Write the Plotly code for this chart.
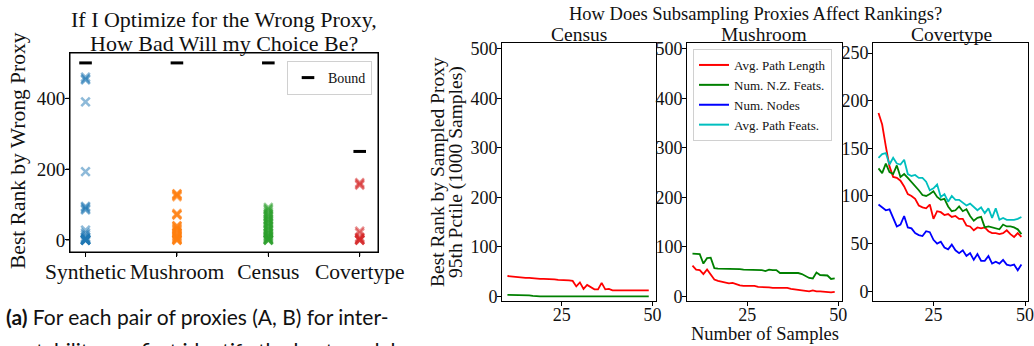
import plotly.graph_objects as go

# ---------------- data: worst-case rank when optimizing the wrong proxy ----------------
datasets = ["Synthetic", "Mushroom", "Census", "Covertype"]
bound_values = [500, 500, 500, 250]
left_yticks = [0, 200, 400]

synthetic_ranks = [460, 455, 452, 390, 193, 95, 92, 88, 85, 28, 20, 15, 8, 5, 3, 2, 0, 0, 0, 0, 0, 0]
mushroom_ranks = [130, 130, 128, 125, 125, 122, 75, 72, 72, 70, 40, 40, 38, 35, 32, 30, 28, 25,
                  20, 18, 15, 12, 10, 8, 5, 3, 2, 0, 0, 0]
census_ranks = [92, 88, 85, 80, 75, 72, 68, 65, 60, 58, 55, 50, 48, 45, 40, 38, 35, 30, 28,
                25, 20, 18, 15, 12, 10, 8, 5, 3, 2, 0, 0, 0]
covertype_ranks = [162, 158, 155, 25, 20, 8, 5, 2, 0, 0, 0]

# ---------------- data: rank vs. number of samples (95th percentile) ----------------
n_samples = list(range(10, 50))

census_path_len = [41, 40, 40, 39, 38, 37, 37, 36, 36, 35, 35, 35, 34, 34, 33, 33, 32, 32, 31,
                   20, 28, 15, 23, 18, 14, 14, 27, 14, 15, 12, 12, 12, 12, 12, 12, 12, 12, 12, 12, 12]
census_nz_feats = [3, 3, 3, 3, 2, 3, 2, 1, 0, 0, 0, 0, 0, 0, 0, 0, 0, 0, 0, 0,
                   0, 0, 0, 0, 0, 0, 0, 0, 0, 0, 0, 0, 0, 0, 0, 0, 0, 0, 0, 0]

mushroom_path_len = [62, 54, 53, 45, 54, 45, 34, 31, 29, 28, 26, 27, 24, 22, 21, 21, 20, 21, 19, 19,
                     19, 18, 17, 17, 16, 16, 17, 15, 14, 13, 12, 12, 10, 12, 10, 10, 9, 9, 8, 9]
mushroom_nz_feats = [86, 85, 85, 66, 77, 78, 57, 56, 56, 55, 55, 55, 55, 55, 54, 54, 54, 54, 54, 53,
                     51, 54, 53, 53, 47, 47, 47, 47, 47, 47, 45, 41, 37, 36, 48, 43, 42, 42, 35, 36]

cover_path_len = [187, 175, 152, 131, 120, 119, 116, 110, 102, 100, 97, 90, 88, 87, 91, 76, 84, 83, 80, 81,
                  78, 79, 76, 76, 69, 68, 64, 67, 66, 67, 63, 61, 61, 60, 61, 64, 60, 57, 61, 57]
cover_nz_feats = [129, 124, 134, 125, 123, 132, 120, 123, 119, 115, 110, 106, 101, 100, 102, 105, 99, 96, 97, 89,
                  84, 85, 89, 84, 86, 79, 74, 77, 78, 67, 68, 67, 66, 65, 70, 68, 68, 67, 65, 60]
cover_nodes = [91, 88, 85, 86, 77, 68, 70, 79, 67, 66, 61, 59, 58, 63, 62, 54, 50, 52, 46, 44,
               49, 43, 40, 43, 37, 40, 33, 39, 32, 32, 37, 29, 31, 29, 33, 28, 27, 28, 22, 28]
cover_path_feats = [140, 144, 145, 133, 140, 134, 133, 138, 123, 121, 122, 119, 119, 115, 106, 108, 112, 99, 102, 94,
                    100, 96, 96, 93, 90, 92, 88, 85, 88, 82, 87, 77, 87, 75, 77, 75, 75, 75, 76, 78]

series_names = ["Avg. Path Length", "Num. N.Z. Feats.", "Num. Nodes", "Avg. Path Feats."]
series_colors = ["#ff0000", "#008000", "#0000ff", "#00bfbf"]

# ---------------- figure ----------------
W, H = 1034, 346
SERIF = "Liberation Serif"
INK = "#111111"

# left panel box in pixels
LX0, LX1, LY0, LY1 = 70, 378, 53, 252
TICK_PX = 4


def px_x(x):
    return x / W


def px_y(y):
    return 1 - y / H


fig = go.Figure()

# left panel: scatter of ranks per dataset
scatter_colors = ["#1f77b4", "#ff7f0e", "#2ca02c", "#d62728"]
for name, ranks, color in zip(datasets, [synthetic_ranks, mushroom_ranks, census_ranks, covertype_ranks],
                              scatter_colors):
    fig.add_trace(go.Scatter(
        x=[name] * len(ranks), y=ranks, mode="markers", showlegend=False,
        marker=dict(symbol="x-thin", size=8.5, color=color, opacity=0.5,
                    line=dict(width=2.6, color=color)),
        xaxis="x", yaxis="y"))

fig.add_trace(go.Scatter(
    x=datasets, y=bound_values, mode="markers", name="Bound", legend="legend",
    marker=dict(symbol="line-ew", size=9, color="black", line=dict(width=3, color="black")),
    xaxis="x", yaxis="y"))

# right panels: lines per proxy
panels = [
    ("x2", "y2", [census_path_len, census_nz_feats, None, None]),
    ("x3", "y3", [mushroom_path_len, mushroom_nz_feats, None, None]),
    ("x4", "y4", [cover_path_len, cover_nz_feats, cover_nodes, cover_path_feats]),
]
for xa, ya, values in panels:
    for i, vals in enumerate(values):
        if vals is None:
            continue
        fig.add_trace(go.Scatter(
            x=n_samples, y=vals, mode="lines", showlegend=False,
            line=dict(color=series_colors[i], width=1.8),
            xaxis=xa, yaxis=ya))

# legend entries for the proxy lines (shown inside the Mushroom panel)
for name, color in zip(series_names, series_colors):
    fig.add_trace(go.Scatter(
        x=[None], y=[None], mode="lines", name=name, legend="legend2",
        line=dict(color=color, width=2), xaxis="x3", yaxis="y3"))

axis_common = dict(showline=True, linecolor="black", linewidth=1, mirror=True,
                   ticks="outside", ticklen=TICK_PX, tickwidth=1, tickcolor="black",
                   showgrid=False, zeroline=False, automargin=False,
                   ticklabeloverflow="allow",
                   tickfont=dict(family=SERIF, size=18, color=INK))
x_common = dict(axis_common, ticklabelstandoff=-7)
y_common = dict(axis_common, ticklabelstandoff=-4)

layout = dict(
    template="none",
    width=W, height=H, margin=dict(l=0, r=0, t=0, b=0, pad=0, autoexpand=False),
    paper_bgcolor="white", plot_bgcolor="white",
    font=dict(family=SERIF, color=INK),
    xaxis=dict(axis_common, type="category", categoryorder="array", categoryarray=datasets,
               range=[-0.17, 3.2], domain=[px_x(LX0), px_x(LX1)], anchor="y",
               ticklabelstandoff=-4,
               tickfont=dict(family=SERIF, size=21.5, color=INK)),
    yaxis=dict(y_common, range=[-34, 528], tickvals=left_yticks,
               domain=[px_y(LY1), px_y(LY0)], anchor="x",
               tickfont=dict(family=SERIF, size=19, color=INK)),
    xaxis2=dict(x_common, range=[8.5, 51], tickvals=[25, 50],
                domain=[px_x(502), px_x(656)], anchor="y2"),
    yaxis2=dict(y_common, range=[-9.5, 511.5], tickvals=[0, 100, 200, 300, 400, 500],
                domain=[px_y(301), px_y(43)], anchor="x2"),
    xaxis3=dict(x_common, range=[8.5, 51], tickvals=[25, 50],
                domain=[px_x(687), px_x(842)], anchor="y3"),
    yaxis3=dict(y_common, range=[-9.5, 511.5], tickvals=[0, 100, 200, 300, 400, 500],
                domain=[px_y(301), px_y(43)], anchor="x3"),
    xaxis4=dict(x_common, range=[8.5, 50.8], tickvals=[25, 50],
                domain=[px_x(873), px_x(1028)], anchor="y4"),
    yaxis4=dict(y_common, range=[-10.2, 260.5], tickvals=[0, 50, 100, 150, 200, 250],
                domain=[px_y(301), px_y(43)], anchor="x4"),
    legend=dict(x=px_x(372), y=px_y(61), xanchor="right", yanchor="top",
                bgcolor="white", bordercolor="#d0d0d0", borderwidth=1,
                font=dict(family=SERIF, size=14, color=INK),
                itemwidth=30, tracegroupgap=0),
    legend2=dict(x=px_x(693), y=px_y(49), xanchor="left", yanchor="top",
                 bgcolor="white", bordercolor="#d0d0d0", borderwidth=1,
                 font=dict(family=SERIF, size=13, color=INK),
                 itemwidth=30, tracegroupgap=0),
)
fig.update_layout(**layout)

# frame and tick marks of the left panel
fig.add_shape(type="rect", xref="x domain", yref="y domain", x0=0, x1=1, y0=0, y1=1,
              line=dict(color="black", width=1), fillcolor="rgba(0,0,0,0)", layer="above")
tick_dx = TICK_PX / (LX1 - LX0)
tick_dy = TICK_PX / (LY1 - LY0)
for v in left_yticks:
    fig.add_shape(type="line", xref="x domain", yref="y", x0=-tick_dx, x1=0, y0=v, y1=v,
                  line=dict(color="black", width=1), layer="above")
for name in datasets:
    fig.add_shape(type="line", xref="x", yref="y domain", x0=name, x1=name, y0=-tick_dy, y1=0,
                  line=dict(color="black", width=1), layer="above")


def text(x, y, s, size, angle=0, family=SERIF, xanchor="center", yanchor="middle"):
    fig.add_annotation(x=px_x(x), y=px_y(y), xref="paper", yref="paper", text=s,
                       showarrow=False, textangle=angle, xanchor=xanchor, yanchor=yanchor,
                       font=dict(family=family, size=size, color=INK))


# titles and axis labels
text(224, 20, "If I Optimize for the Wrong Proxy,", 22)
text(224, 43, "How Bad Will my Choice Be?", 22)
text(18, 151, "Best Rank by Wrong Proxy", 21.5, angle=-90)

text(755, 14, "How Does Subsampling Proxies Affect Rankings?", 18.5)
text(579, 34, "Census", 19.5)
text(764, 34, "Mushroom", 19.5)
text(951, 34, "Covertype", 19.5)
text(437, 172, "Best Rank by Sampled Proxy", 19.5, angle=-90)
text(456, 172, "95th Pctile (1000 Samples)", 19.5, angle=-90)
text(765, 334, "Number of Samples", 18.5)

# caption below the left panel; its second line runs past the bottom edge
text(4, 316, "<b>(a)</b> For each pair of proxies (A, B) for inter-", 21,
     family="Lato", xanchor="left")
text(4, 336, "pretability, we first identify the best model", 21,
     family="Lato", xanchor="left", yanchor="top")

# keep the page at the figure size: clip anything drawn past the figure edges
clip_js = """
document.documentElement.style.overflow = 'hidden';
document.body.style.overflow = 'hidden';
document.body.style.margin = '0';
document.querySelectorAll('svg.main-svg').forEach(function (s) { s.style.overflow = 'hidden'; });
var c = document.querySelector('.svg-container');
if (c) { c.style.overflow = 'hidden'; }
"""
fig.write_html("out.html", post_script=clip_js)
